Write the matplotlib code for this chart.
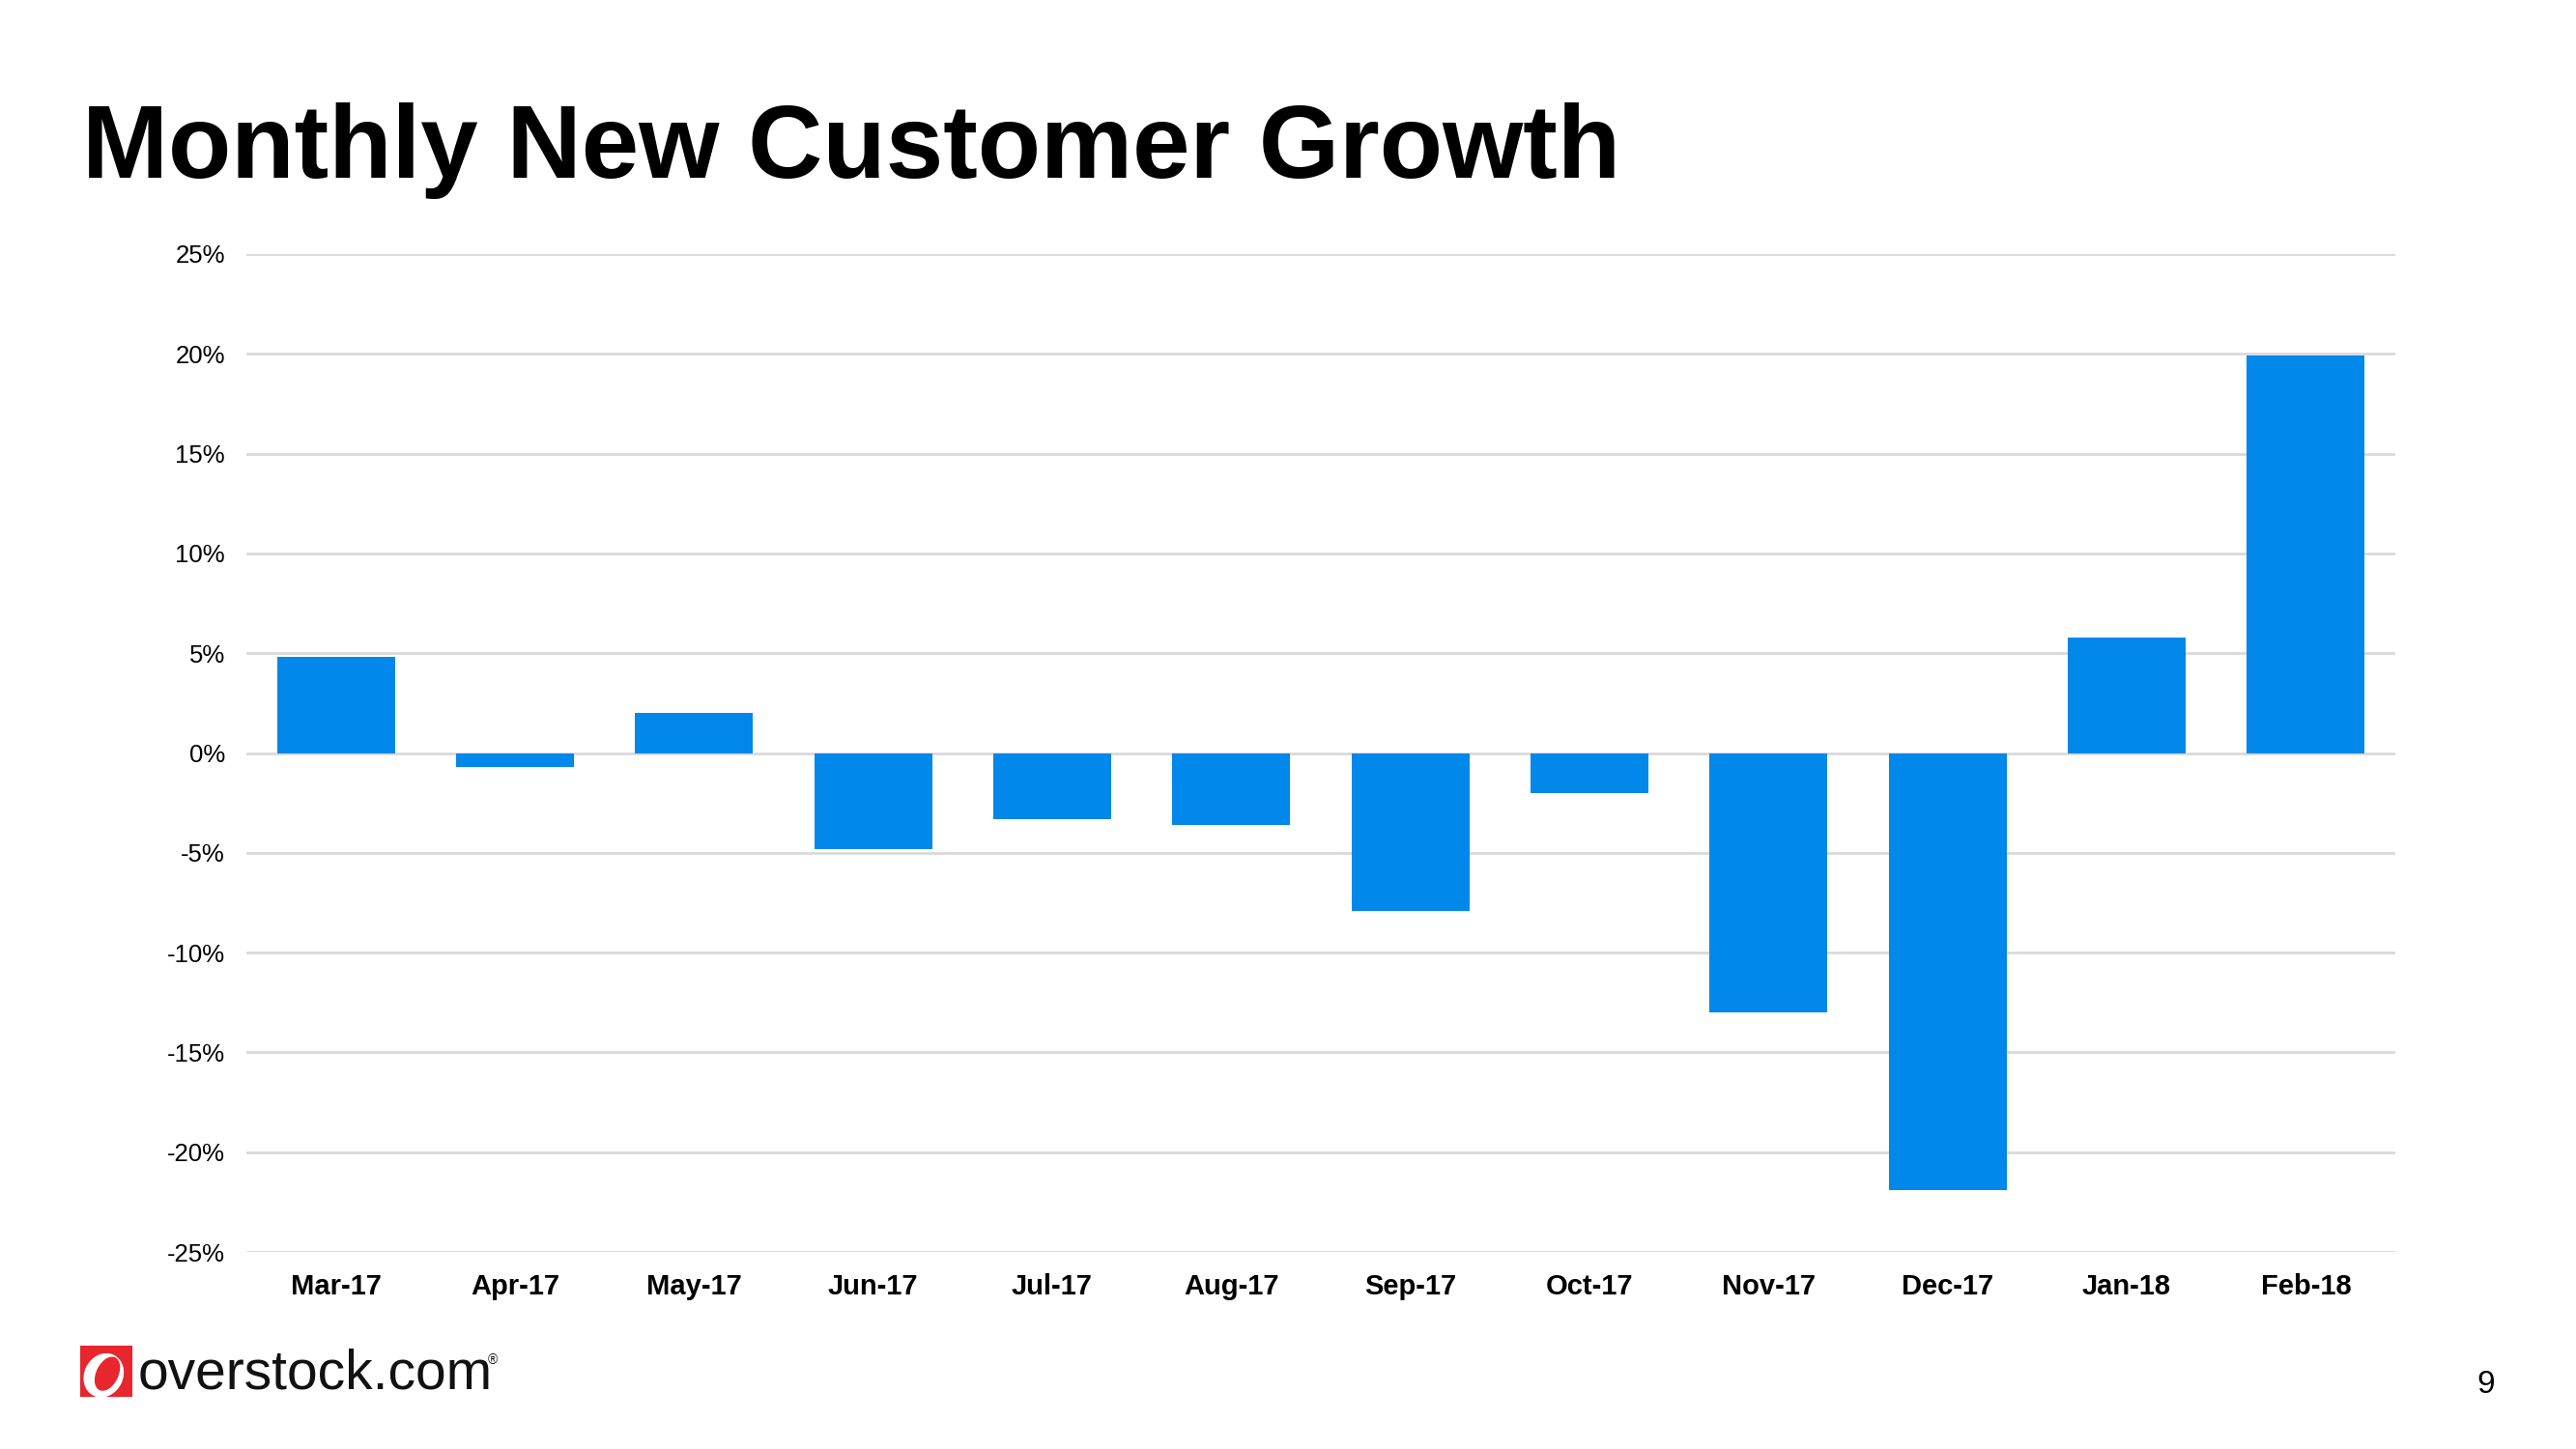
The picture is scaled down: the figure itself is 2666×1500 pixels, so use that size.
import matplotlib
matplotlib.use("Agg")
import matplotlib.pyplot as plt
from matplotlib.patches import Rectangle, Ellipse
from matplotlib.ticker import FuncFormatter, MultipleLocator

plt.rcParams['font.family'] = ['Liberation Sans', 'DejaVu Sans']

months = ["Mar-17", "Apr-17", "May-17", "Jun-17", "Jul-17", "Aug-17",
          "Sep-17", "Oct-17", "Nov-17", "Dec-17", "Jan-18", "Feb-18"]
growth = [4.8, -0.7, 2.0, -4.8, -3.3, -3.6, -7.9, -2.0, -13.0, -21.9, 5.8, 19.9]

W, H = 2666, 1500
fig = plt.figure(figsize=(W / 100, H / 100), dpi=100)
fig.patch.set_facecolor("white")

ax = fig.add_axes([255 / W, 1 - 1296 / H, (2479 - 255) / W, (1296 - 263) / H])
x = list(range(len(months)))
ax.bar(x, growth, width=0.66, color="#0287EA", zorder=3)
ax.set_xlim(-0.5, len(months) - 0.5)
ax.set_ylim(-25, 25)
ax.yaxis.set_major_locator(MultipleLocator(5))
ax.yaxis.set_major_formatter(FuncFormatter(lambda v, p: f"{v:.0f}%"))
ax.grid(axis="y", color="#d9d9d9", linewidth=2, zorder=0)
ax.set_axisbelow(True)
for s in ax.spines.values():
    s.set_visible(False)
ax.set_xticks(x)
ax.set_xticklabels(months, fontsize=21, fontweight="bold")
ax.tick_params(axis="x", length=0, pad=16)
ax.tick_params(axis="y", length=0, pad=16, labelsize=18.5)

fig.text(85 / W, 1 - 184 / H, "Monthly New Customer Growth", fontsize=77,
         fontweight="bold", ha="left", va="baseline")

# logo
lax = fig.add_axes([83 / W, 1 - 1446 / H, 54 / W, 53 / H])
lax.set_xlim(0, 1)
lax.set_ylim(0, 1)
lax.axis("off")
lax.add_patch(Rectangle((0, 0), 1, 1, color="#E8262D"))
lax.add_patch(Ellipse((0.45, 0.42), 0.72, 0.86, angle=-25, color="white"))
lax.add_patch(Ellipse((0.52, 0.45), 0.40, 0.68, angle=-25, color="#E8262D"))
fig.text(143 / W, 1 - 1437 / H, "overstock.com", fontsize=41, ha="left",
         va="baseline", color="#111111")
fig.text(505 / W, 1 - 1412 / H, "®", fontsize=10, ha="left", va="baseline",
         color="#111111")

fig.text(2573 / W, 1 - 1442 / H, "9", fontsize=24, ha="center", va="baseline")

fig.savefig("out.png", dpi=100)
